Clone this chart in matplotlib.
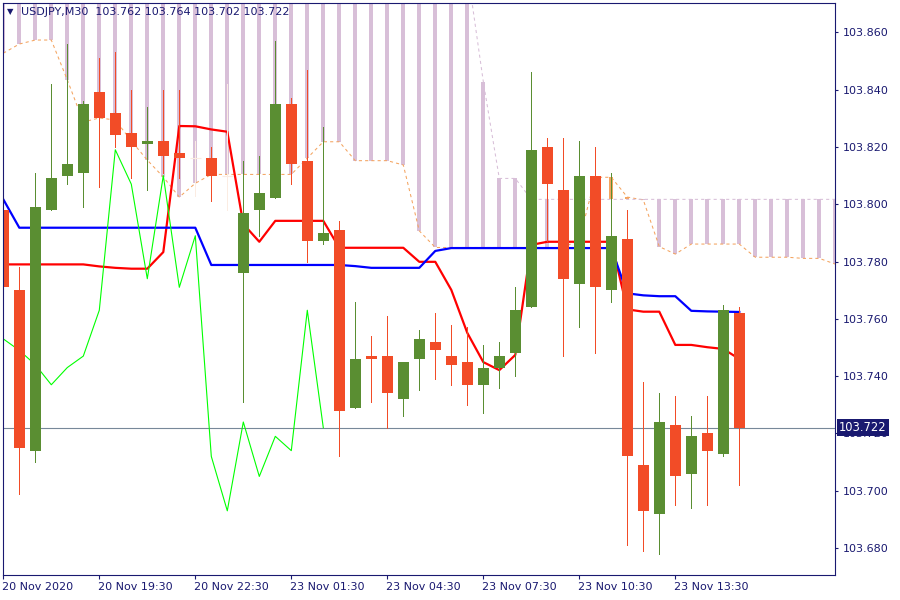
import matplotlib
matplotlib.use("Agg")
import matplotlib.pyplot as plt
import matplotlib.transforms as mtransforms
import numpy as np

# ---------------- data ----------------
symbol = "USDJPY,M30"
opens = [103.798, 103.770, 103.714, 103.798, 103.810, 103.811, 103.839, 103.832, 103.825, 103.821,
         103.822, 103.818, 103.816, 103.816, 103.810, 103.776, 103.798, 103.802, 103.835, 103.815,
         103.787, 103.791, 103.729, 103.747, 103.747, 103.732, 103.746, 103.752, 103.747, 103.745,
         103.737, 103.743, 103.748, 103.764, 103.820, 103.805, 103.772, 103.810, 103.770, 103.788,
         103.709, 103.692, 103.723, 103.706, 103.720, 103.713, 103.762]
highs = [103.801, 103.778, 103.811, 103.842, 103.856, 103.836, 103.851, 103.853, 103.840, 103.834,
         103.840, 103.840, 103.822, 103.820, 103.842, 103.815, 103.817, 103.857, 103.837, 103.847,
         103.827, 103.794, 103.766, 103.754, 103.761, 103.745, 103.756, 103.762, 103.758, 103.757,
         103.751, 103.752, 103.771, 103.846, 103.823, 103.823, 103.822, 103.820, 103.811, 103.798,
         103.738, 103.734, 103.733, 103.726, 103.733, 103.765, 103.764]
lows = [103.698, 103.699, 103.710, 103.798, 103.807, 103.799, 103.806, 103.820, 103.809, 103.805,
        103.811, 103.809, 103.803, 103.801, 103.798, 103.731, 103.789, 103.802, 103.807, 103.780,
        103.786, 103.712, 103.729, 103.731, 103.722, 103.726, 103.735, 103.739, 103.737, 103.730,
        103.727, 103.736, 103.740, 103.764, 103.787, 103.747, 103.757, 103.748, 103.766, 103.681,
        103.679, 103.678, 103.695, 103.694, 103.695, 103.712, 103.702]
closes = [103.771, 103.715, 103.799, 103.809, 103.814, 103.835, 103.830, 103.824, 103.820, 103.822,
          103.817, 103.816, 103.816, 103.810, 103.810, 103.797, 103.804, 103.835, 103.814, 103.787,
          103.790, 103.728, 103.746, 103.746, 103.734, 103.745, 103.753, 103.749, 103.744, 103.737,
          103.743, 103.747, 103.763, 103.819, 103.807, 103.774, 103.810, 103.771, 103.789, 103.712,
          103.693, 103.724, 103.705, 103.719, 103.714, 103.763, 103.722]

tenkan = [103.779, 103.779, 103.779, 103.779, 103.779, 103.779, 103.7783, 103.7778, 103.7775, 103.7775,
          103.7833, 103.8273, 103.8272, 103.8261, 103.8253, 103.7931, 103.7869, 103.7942, 103.7942, 103.7942,
          103.7942, 103.7848, 103.7848, 103.7848, 103.7848, 103.7848, 103.7799, 103.7799, 103.7701, 103.7551,
          103.7449, 103.7421, 103.7474, 103.7858, 103.7869, 103.7869, 103.7869, 103.7869, 103.7869, 103.7633,
          103.7625, 103.7625, 103.7509, 103.7509, 103.7501, 103.7495, 103.7460]
kijun = [103.8017, 103.7918, 103.7918, 103.7918, 103.7918, 103.7918, 103.7918, 103.7918, 103.7918, 103.7918,
         103.7918, 103.7918, 103.7918, 103.7788, 103.7788, 103.7788, 103.7788, 103.7788, 103.7788, 103.7788,
         103.7788, 103.7788, 103.7784, 103.7778, 103.7778, 103.7778, 103.7778, 103.7837, 103.7847, 103.7847,
         103.7847, 103.7847, 103.7847, 103.7847, 103.7847, 103.7847, 103.7847, 103.7847, 103.7847, 103.7689,
         103.7682, 103.7679, 103.7679, 103.7628, 103.7626, 103.7625, 103.7624]
senkou_a = [103.8527, 103.8559, 103.8573, 103.8573, 103.8434, 103.8287, 103.8301, 103.8294, 103.8221, 103.8154,
            103.8095, 103.8025, 103.8073, 103.8104, 103.8104, 103.8104, 103.8104, 103.8104, 103.8104, 103.8161,
            103.8218, 103.8218, 103.8152, 103.8152, 103.8152, 103.8137, 103.7907, 103.7849, 103.7849, 103.7849,
            103.7849, 103.7849, 103.7849, 103.7849, 103.7849, 103.7849, 103.7875, 103.8094, 103.8094, 103.8025,
            103.8015, 103.7852, 103.7826, 103.7861, 103.7861, 103.7861, 103.7861, 103.7815, 103.7815, 103.7815,
            103.7811, 103.7811, 103.7791]
senkou_b = [103.890, 103.890, 103.890, 103.890, 103.890, 103.890, 103.890, 103.890, 103.890, 103.890,
            103.890, 103.890, 103.890, 103.890, 103.890, 103.890, 103.890, 103.890, 103.890, 103.890,
            103.890, 103.890, 103.890, 103.890, 103.890, 103.890, 103.890, 103.890, 103.890, 103.882,
            103.8428, 103.8090, 103.8090, 103.8017, 103.8017, 103.8017, 103.8017, 103.8017, 103.8017, 103.8017,
            103.8017, 103.8017, 103.8017, 103.8017, 103.8017, 103.8017, 103.8017, 103.8017, 103.8017, 103.8017,
            103.8017, 103.8017, 103.8017]
chikou_shift = 26
x_labels = ["20 Nov 2020", "20 Nov 19:30", "20 Nov 22:30", "23 Nov 01:30",
            "23 Nov 04:30", "23 Nov 07:30", "23 Nov 10:30", "23 Nov 13:30"]
x_label_pos = [0, 6, 12, 18, 24, 30, 36, 42]
y_ticks = [103.680, 103.700, 103.720, 103.740, 103.760, 103.780, 103.800, 103.820, 103.840, 103.860]

# ---------------- style ----------------
NAVY = "#191970"
BULL = "#5a8e32"
BEAR = "#f24c27"
DOJI = "#fbece2"

W, H = 900, 600
fig = plt.figure(figsize=(9, 6), dpi=100)
fig.patch.set_facecolor("white")
ax_l, ax_r, ax_t, ax_b = 2.7, 835.5, 2.5, 575.3
ax = fig.add_axes([ax_l / W, 1 - ax_b / H, (ax_r - ax_l) / W, (ax_b - ax_t) / H])

px = 16.0
x0 = 3.3
ax.set_xlim((ax_l - x0) / px, (ax_r - x0) / px)
ax.set_ylim(103.6705, 103.8704)

n = len(closes)
idx = np.arange(n)
o = np.array(opens); c = np.array(closes); hi = np.array(highs); lo = np.array(lows)

# cloud histogram
sa = np.array(senkou_a); sb = np.array(senkou_b)
cidx = np.arange(len(sa))
cloud_cols = ["#F4A460" if a > b else "#D8BFD8" for a, b in zip(sa, sb)]
ax.vlines(cidx, np.minimum(sa, sb), np.maximum(sa, sb), colors=cloud_cols, lw=1.5,
          zorder=1, antialiased=False)
ax.plot(cidx, sa, color="#F4A460", lw=0.75, ls=(0, (3, 3)), zorder=1.2)
ax.plot(cidx, sb, color="#D8BFD8", lw=0.75, ls=(0, (3, 3)), zorder=1.2)

# bid line
ax.axhline(c[-1], color="#778899", lw=0.8, zorder=1.3)

# ichimoku lines
ax.plot(idx, tenkan, color="#FF0000", lw=1.6, zorder=1.5)
ax.plot(idx, kijun, color="#0000FF", lw=1.6, zorder=1.5)
ch = c[chikou_shift:]
ax.plot(np.arange(len(ch)), ch, color="#00FF00", lw=0.8, zorder=1.5)

# candles
cols = np.where(c > o, BULL, np.where(c < o, BEAR, DOJI))
ax.vlines(idx, lo, hi, colors=cols, lw=0.7, zorder=2, antialiased=False)
bw = 0.66
body_lo = np.minimum(o, c)
body_h = np.abs(c - o)
mask = body_h > 0
ax.bar(idx[mask], body_h[mask], bottom=body_lo[mask], width=bw, color=cols[mask],
       linewidth=0, zorder=2.1, antialiased=False)
dj = ~mask
ax.hlines(o[dj], idx[dj] - bw / 2, idx[dj] + bw / 2, colors=DOJI, lw=0.8, zorder=2.1)

# axes styling
for s in ax.spines.values():
    s.set_color(NAVY)
    s.set_linewidth(0.8)
ax.yaxis.tick_right()
ax.set_yticks(y_ticks)
ax.set_yticklabels([f"{v:.3f}" for v in y_ticks])
ax.set_xticks(x_label_pos)
ax.set_xticklabels(x_labels)
for lbl in ax.get_xticklabels():
    lbl.set_ha("left")
ax.tick_params(axis="y", colors=NAVY, labelcolor=NAVY, length=2.5, width=0.8, pad=3, labelsize=8)
ax.tick_params(axis="x", colors=NAVY, labelcolor=NAVY, length=3, width=0.8, pad=2, labelsize=8)
for lbl in ax.get_xticklabels():
    lbl.set_transform(lbl.get_transform() + mtransforms.ScaledTranslation(-1 / 100, 0, fig.dpi_scale_trans))

# price box (covers the 103.720 tick label like the reference)
trans = mtransforms.blended_transform_factory(ax.transAxes, ax.transData)
ax.text(1.0045, c[-1], f"{c[-1]:.3f}", transform=trans, ha="left", va="center", fontsize=8.3,
        color="white", zorder=10, clip_on=False,
        bbox=dict(boxstyle="square,pad=0.18", fc=NAVY, ec="none"))

# header
fig.text(10.5 / W, 1 - 12 / H, "\u25BC", fontsize=6, color=NAVY, ha="center", va="center")
fig.text(21 / W, 1 - 12 / H,
         f"{symbol}  {opens[-1]:.3f} {highs[-1]:.3f} {lows[-1]:.3f} {closes[-1]:.3f}",
         fontsize=8, color=NAVY, ha="left", va="center")

fig.savefig("out.png", dpi=100, facecolor="white")
